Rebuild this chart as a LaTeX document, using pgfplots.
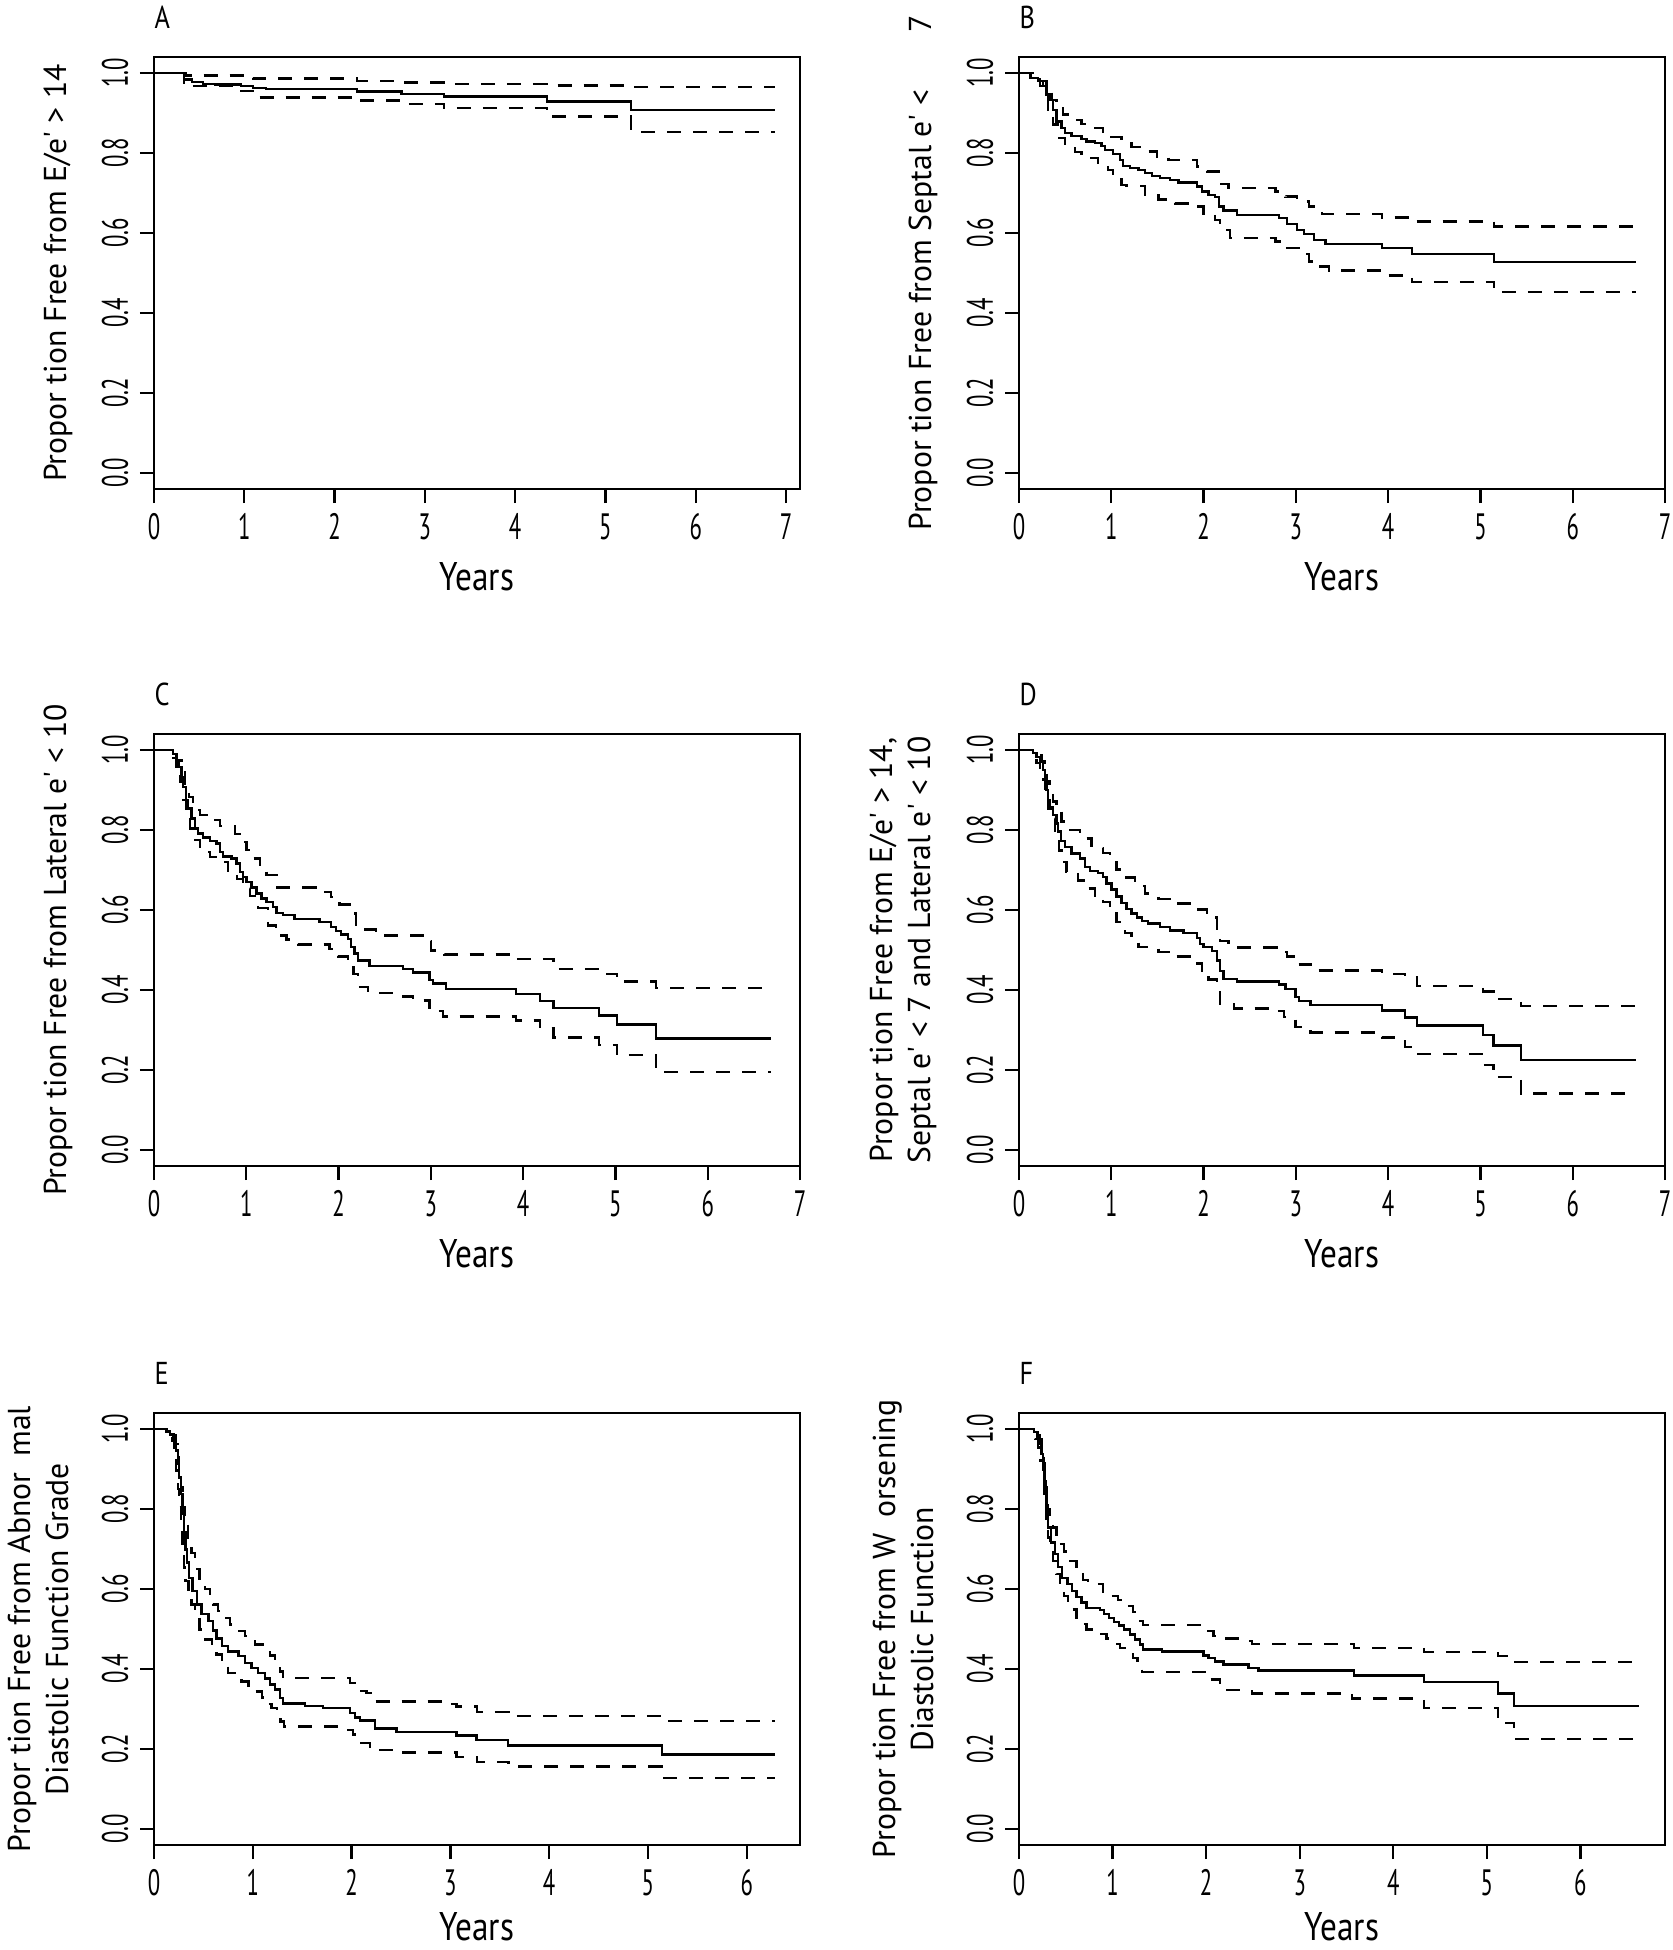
\documentclass[border=0pt]{standalone}
\usepackage{fontspec}
\setmainfont{PT Sans}
\newfontfamily\condfont[FakeStretch=0.62]{PT Sans}
\newfontfamily\yearfont[FakeStretch=0.83]{PT Sans}
\usepackage{pgfplots}
\pgfplotsset{compat=1.18}
\newcommand{\tickfont}{\condfont\fontsize{11}{13}\selectfont}
\newcommand{\labfont}{\fontsize{9.5}{11.4}\selectfont}
\newcommand{\q}{\textquotesingle}
\pgfplotsset{
  km/.style={
    scale only axis, width=193.8pt, height=129.6pt,
    xmin=0, ymin=-0.04, ymax=1.04,
    ytick={0,0.2,0.4,0.6,0.8,1},
    yticklabels={0.0,0.2,0.4,0.6,0.8,1.0},
    tick pos=left, tick align=outside, major tick length=4.2pt,
    every tick/.style={black, line width=0.7pt},
    axis line style={line width=0.7pt},
    /pgf/number format/assume math mode=true,
    yticklabel style={font=\tickfont, rotate=90, anchor=south},
    xticklabel style={font=\tickfont, anchor=north, inner sep=3pt},
    xlabel={Years},
    xlabel style={font=\yearfont\fontsize{12}{14}\selectfont, at={(axis description cs:0.5,-0.2037)}, anchor=center},
    ylabel style={font=\labfont, align=center, at={(axis description cs:-0.1486,0.5)}, anchor=center},
  },
  panel/.style={extra description/.code={\node[anchor=west, inner sep=0pt, font=\yearfont\fontsize{9.5}{11}\selectfont] at (0,1.0926) {#1};}},
  twoline/.style={ylabel style={at={(axis description cs:-0.1796,0.5)}}},
  lowrow/.style={xlabel style={at={(axis description cs:0.5,-0.19)}}},
  est/.style={const plot, black, line width=0.7pt},
  ci/.style={const plot, black, line width=0.7pt, dash pattern=on 4.2pt off 3.6pt},
}
\begin{document}
\begin{tikzpicture}
\path[use as bounding box] (0,0) rectangle (501.9pt,-585pt);
% ---------------- A
\begin{axis}[km, at={(46.2pt,-17.1pt)}, anchor=north west, xmax=7.155, xtick={0,...,7},
  panel={A}, ylabel={Propor tion Free from E/e\q{} > 14}]
\addplot[est] coordinates {(0,1)(0.33,0.984)(0.42,0.978)(0.54,0.973)(0.68,0.971)(0.96,0.967)(1.10,0.963)(1.24,0.960)(2.25,0.954)(2.74,0.948)(3.21,0.941)(4.35,0.929)(5.28,0.907)(6.88,0.907)};
\addplot[ci] coordinates {(0,1)(0.35,0.994)(1.10,0.986)(2.25,0.980)(2.74,0.976)(3.21,0.972)(4.35,0.969)(5.28,0.965)(6.88,0.965)};
\addplot[ci] coordinates {(0,1)(0.33,0.975)(0.42,0.967)(0.96,0.955)(1.10,0.939)(2.25,0.931)(2.74,0.922)(3.21,0.912)(4.35,0.891)(5.28,0.853)(6.88,0.853)};
\end{axis}
% ---------------- B
\begin{axis}[km, at={(305.7pt,-17.1pt)}, anchor=north west, xmax=7.0, xtick={0,...,7},
  panel={B}, ylabel={Propor tion Free from Septal e\q{} <\hspace{1.8em}7}]
\addplot[est] coordinates {(0,1)(0.126,0.988)(0.206,0.980)(0.260,0.967)(0.296,0.946)(0.332,0.933)(0.369,0.908)(0.405,0.879)(0.459,0.862)(0.496,0.850)(0.568,0.842)(0.677,0.835)(0.731,0.829)(0.822,0.825)(0.894,0.818)(0.930,0.807)(1.021,0.798)(1.093,0.783)(1.130,0.768)(1.202,0.762)(1.293,0.758)(1.365,0.750)(1.438,0.743)(1.528,0.737)(1.637,0.733)(1.727,0.726)(1.927,0.716)(1.981,0.704)(2.053,0.695)(2.126,0.690)(2.170,0.666)(2.216,0.656)(2.361,0.645)(2.814,0.637)(2.905,0.623)(3.014,0.608)(3.086,0.598)(3.195,0.583)(3.322,0.573)(3.93,0.562)(4.26,0.547)(5.15,0.527)(6.69,0.527)};
\addplot[ci] coordinates {(0,1)(0.188,0.980)(0.296,0.955)(0.351,0.933)(0.405,0.913)(0.477,0.896)(0.568,0.883)(0.677,0.873)(0.822,0.862)(0.912,0.850)(1.003,0.840)(1.111,0.829)(1.220,0.815)(1.347,0.804)(1.492,0.791)(1.619,0.783)(1.927,0.766)(2.036,0.754)(2.162,0.723)(2.271,0.712)(2.778,0.704)(2.887,0.691)(3.014,0.679)(3.140,0.666)(3.284,0.648)(3.93,0.639)(4.26,0.629)(5.15,0.616)(6.69,0.616)};
\addplot[ci] coordinates {(0,1)(0.151,0.984)(0.224,0.967)(0.278,0.946)(0.315,0.908)(0.369,0.871)(0.423,0.838)(0.496,0.815)(0.604,0.802)(0.677,0.788)(0.858,0.775)(0.967,0.758)(1.021,0.741)(1.111,0.720)(1.166,0.718)(1.365,0.695)(1.510,0.684)(1.691,0.674)(1.909,0.666)(1.999,0.649)(2.126,0.633)(2.180,0.608)(2.289,0.587)(2.778,0.579)(2.887,0.562)(3.032,0.548)(3.140,0.529)(3.231,0.516)(3.358,0.506)(3.93,0.494)(4.26,0.477)(5.15,0.452)(6.69,0.452)};
\end{axis}
% ---------------- C
\begin{axis}[km, at={(46.2pt,-220.2pt)}, anchor=north west, xmax=7.0, xtick={0,...,7},
  panel={C}, ylabel={Propor tion Free from Lateral e\q{} < 10}]
\addplot[est] coordinates {(0,1)(0.209,0.990)(0.245,0.975)(0.274,0.958)(0.299,0.933)(0.317,0.908)(0.346,0.875)(0.371,0.854)(0.407,0.829)(0.443,0.804)(0.479,0.791)(0.533,0.781)(0.605,0.773)(0.677,0.766)(0.713,0.745)(0.749,0.734)(0.840,0.729)(0.894,0.716)(0.930,0.695)(0.966,0.683)(1.002,0.670)(1.056,0.656)(1.110,0.641)(1.164,0.629)(1.218,0.620)(1.290,0.608)(1.326,0.593)(1.398,0.587)(1.524,0.577)(1.795,0.570)(1.921,0.558)(1.975,0.548)(2.029,0.539)(2.101,0.528)(2.137,0.507)(2.173,0.491)(2.209,0.474)(2.335,0.460)(2.695,0.452)(2.804,0.444)(2.984,0.425)(3.020,0.416)(3.164,0.403)(3.92,0.390)(4.18,0.373)(4.33,0.355)(4.82,0.336)(5.02,0.314)(5.44,0.279)(6.69,0.279)};
\addplot[ci] coordinates {(0,1)(0.245,0.975)(0.299,0.950)(0.335,0.916)(0.382,0.883)(0.425,0.850)(0.497,0.837)(0.569,0.825)(0.713,0.810)(0.876,0.790)(0.930,0.770)(1.002,0.750)(1.074,0.729)(1.146,0.708)(1.218,0.687)(1.326,0.656)(1.758,0.645)(1.921,0.633)(2.011,0.614)(2.119,0.591)(2.191,0.562)(2.263,0.551)(2.407,0.536)(2.912,0.522)(3.002,0.499)(3.146,0.489)(3.92,0.477)(4.33,0.452)(4.82,0.440)(5.02,0.421)(5.44,0.405)(6.69,0.405)};
\addplot[ci] coordinates {(0,1)(0.191,0.980)(0.245,0.958)(0.288,0.920)(0.317,0.875)(0.346,0.833)(0.389,0.804)(0.443,0.775)(0.497,0.745)(0.605,0.732)(0.695,0.720)(0.803,0.695)(0.901,0.678)(0.966,0.654)(1.038,0.635)(1.128,0.605)(1.236,0.561)(1.319,0.536)(1.434,0.526)(1.560,0.514)(1.903,0.503)(1.993,0.484)(2.101,0.465)(2.162,0.440)(2.209,0.407)(2.317,0.393)(2.695,0.384)(2.804,0.374)(2.984,0.347)(3.128,0.334)(3.92,0.324)(4.18,0.304)(4.33,0.281)(4.82,0.262)(5.02,0.237)(5.44,0.195)(6.69,0.195)};
\end{axis}
% ---------------- D
\begin{axis}[km, twoline, at={(305.7pt,-220.2pt)}, anchor=north west, xmax=7.0, xtick={0,...,7},
  panel={D}, ylabel={Propor tion Free from E/e\q{} > 14,\\Septal e\q{} < 7 and Lateral e\q{} < 10}]
\addplot[est] coordinates {(0,1)(0.151,0.993)(0.188,0.982)(0.224,0.971)(0.260,0.950)(0.278,0.925)(0.296,0.900)(0.315,0.875)(0.332,0.858)(0.369,0.837)(0.405,0.816)(0.423,0.796)(0.452,0.773)(0.496,0.758)(0.568,0.741)(0.659,0.729)(0.713,0.708)(0.767,0.698)(0.858,0.693)(0.912,0.683)(0.949,0.666)(1.003,0.651)(1.057,0.634)(1.111,0.617)(1.166,0.602)(1.220,0.591)(1.275,0.581)(1.329,0.572)(1.401,0.566)(1.528,0.557)(1.637,0.549)(1.782,0.543)(1.927,0.530)(1.963,0.515)(1.999,0.507)(2.090,0.497)(2.144,0.474)(2.180,0.447)(2.217,0.428)(2.362,0.421)(2.815,0.414)(2.887,0.403)(2.996,0.382)(3.032,0.373)(3.159,0.362)(3.93,0.349)(4.18,0.331)(4.31,0.311)(5.03,0.287)(5.14,0.261)(5.44,0.225)(6.69,0.225)};
\addplot[ci] coordinates {(0,1)(0.188,0.987)(0.242,0.971)(0.278,0.948)(0.304,0.921)(0.332,0.896)(0.369,0.871)(0.405,0.846)(0.459,0.821)(0.532,0.800)(0.659,0.779)(0.786,0.755)(0.912,0.743)(0.985,0.720)(1.057,0.701)(1.148,0.681)(1.257,0.660)(1.365,0.641)(1.510,0.628)(1.637,0.616)(1.927,0.601)(2.036,0.581)(2.144,0.553)(2.180,0.522)(2.271,0.506)(2.797,0.495)(2.905,0.484)(3.014,0.464)(3.159,0.449)(3.93,0.440)(4.18,0.432)(4.31,0.410)(5.03,0.396)(5.14,0.378)(5.44,0.360)(6.69,0.360)};
\addplot[ci] coordinates {(0,1)(0.151,0.990)(0.188,0.968)(0.224,0.950)(0.260,0.925)(0.285,0.891)(0.315,0.854)(0.343,0.829)(0.387,0.791)(0.430,0.749)(0.459,0.720)(0.514,0.695)(0.641,0.674)(0.731,0.654)(0.822,0.635)(0.912,0.620)(0.985,0.591)(1.057,0.570)(1.148,0.542)(1.220,0.524)(1.293,0.507)(1.510,0.495)(1.619,0.484)(1.927,0.466)(1.981,0.449)(2.054,0.426)(2.144,0.395)(2.180,0.365)(2.326,0.354)(2.778,0.347)(2.869,0.333)(2.996,0.307)(3.159,0.294)(3.93,0.281)(4.18,0.257)(4.31,0.240)(5.03,0.212)(5.14,0.182)(5.44,0.141)(6.69,0.141)};
\end{axis}
% ---------------- E
\begin{axis}[km, twoline, lowrow, at={(46.2pt,-423.9pt)}, anchor=north west, xmax=6.54, xtick={0,...,6},
  panel={E}, ylabel={Propor tion Free from Abnor\hspace{0.5em}mal\\Diastolic Function Grade}]
\addplot[est] coordinates {(0,1)(0.128,0.994)(0.162,0.986)(0.196,0.971)(0.223,0.946)(0.240,0.912)(0.256,0.879)(0.270,0.837)(0.287,0.787)(0.304,0.741)(0.320,0.699)(0.337,0.666)(0.357,0.628)(0.391,0.595)(0.432,0.561)(0.482,0.538)(0.550,0.520)(0.600,0.496)(0.634,0.476)(0.685,0.457)(0.752,0.444)(0.854,0.432)(0.921,0.415)(0.988,0.403)(1.056,0.390)(1.123,0.376)(1.174,0.361)(1.225,0.349)(1.275,0.328)(1.309,0.314)(1.528,0.308)(1.714,0.303)(1.984,0.290)(2.035,0.279)(2.085,0.271)(2.237,0.251)(2.456,0.243)(3.063,0.234)(3.266,0.223)(3.586,0.209)(5.14,0.186)(6.29,0.186)};
\addplot[ci] coordinates {(0,1)(0.162,0.994)(0.196,0.985)(0.223,0.962)(0.240,0.930)(0.256,0.895)(0.270,0.855)(0.290,0.805)(0.314,0.765)(0.347,0.725)(0.381,0.690)(0.415,0.650)(0.459,0.620)(0.516,0.600)(0.567,0.580)(0.600,0.561)(0.651,0.545)(0.708,0.528)(0.769,0.511)(0.843,0.495)(0.921,0.482)(1.022,0.461)(1.123,0.453)(1.174,0.434)(1.225,0.415)(1.275,0.394)(1.309,0.378)(1.984,0.365)(2.035,0.345)(2.152,0.340)(2.237,0.319)(2.996,0.312)(3.063,0.306)(3.27,0.292)(3.59,0.282)(5.14,0.270)(6.29,0.270)};
\addplot[ci] coordinates {(0,1)(0.145,0.986)(0.179,0.971)(0.202,0.937)(0.223,0.896)(0.240,0.850)(0.256,0.804)(0.270,0.754)(0.287,0.704)(0.304,0.654)(0.320,0.620)(0.348,0.591)(0.381,0.561)(0.415,0.532)(0.459,0.499)(0.516,0.474)(0.584,0.453)(0.634,0.436)(0.685,0.412)(0.752,0.390)(0.820,0.384)(0.887,0.369)(0.955,0.352)(1.022,0.344)(1.090,0.329)(1.140,0.312)(1.191,0.302)(1.242,0.286)(1.282,0.269)(1.316,0.256)(1.950,0.248)(2.017,0.236)(2.068,0.215)(2.186,0.206)(2.254,0.198)(2.456,0.191)(3.063,0.180)(3.27,0.168)(3.59,0.156)(5.14,0.128)(6.29,0.128)};
\end{axis}
% ---------------- F
\begin{axis}[km, twoline, lowrow, at={(305.7pt,-423.9pt)}, anchor=north west, xmax=6.905, xtick={0,...,6},
  panel={F}, ylabel={Propor tion Free from W\hspace{0.5em}orsening\\Diastolic Function}]
\addplot[est] coordinates {(0,1)(0.160,0.992)(0.196,0.979)(0.224,0.962)(0.239,0.937)(0.256,0.904)(0.274,0.854)(0.292,0.804)(0.310,0.754)(0.339,0.716)(0.381,0.687)(0.417,0.655)(0.460,0.628)(0.517,0.612)(0.567,0.595)(0.614,0.580)(0.667,0.566)(0.721,0.553)(0.864,0.547)(0.910,0.537)(0.960,0.527)(1.017,0.518)(1.067,0.509)(1.125,0.499)(1.185,0.486)(1.239,0.474)(1.293,0.461)(1.328,0.449)(1.525,0.444)(1.971,0.434)(2.025,0.428)(2.096,0.419)(2.186,0.411)(2.454,0.403)(2.561,0.396)(3.579,0.384)(4.33,0.367)(5.12,0.339)(5.29,0.307)(6.63,0.307)};
\addplot[ci] coordinates {(0,1)(0.185,0.992)(0.221,0.975)(0.246,0.945)(0.260,0.915)(0.274,0.870)(0.290,0.830)(0.305,0.800)(0.328,0.779)(0.364,0.754)(0.399,0.729)(0.435,0.712)(0.482,0.694)(0.542,0.670)(0.614,0.645)(0.685,0.622)(0.739,0.612)(0.900,0.593)(0.971,0.582)(1.060,0.573)(1.150,0.557)(1.221,0.543)(1.282,0.520)(1.328,0.510)(1.954,0.495)(2.078,0.482)(2.204,0.476)(2.454,0.470)(2.490,0.463)(3.58,0.453)(4.33,0.443)(5.12,0.432)(5.29,0.418)(6.63,0.418)};
\addplot[ci] coordinates {(0,1)(0.149,0.992)(0.174,0.975)(0.203,0.954)(0.231,0.921)(0.256,0.879)(0.274,0.821)(0.292,0.771)(0.310,0.729)(0.328,0.704)(0.364,0.670)(0.399,0.637)(0.435,0.604)(0.482,0.583)(0.524,0.566)(0.567,0.549)(0.614,0.528)(0.667,0.512)(0.721,0.499)(0.846,0.488)(0.935,0.476)(1.007,0.463)(1.078,0.453)(1.168,0.438)(1.221,0.428)(1.268,0.407)(1.318,0.393)(1.989,0.374)(2.150,0.359)(2.204,0.348)(2.490,0.339)(3.561,0.326)(4.33,0.302)(5.12,0.265)(5.29,0.225)(6.63,0.225)};
\end{axis}
\end{tikzpicture}
\end{document}
